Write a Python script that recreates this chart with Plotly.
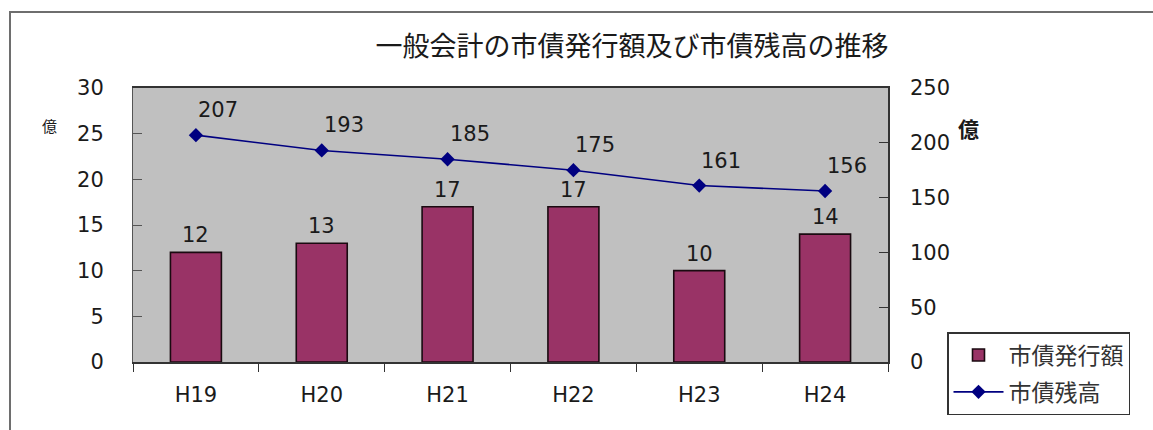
import plotly.graph_objects as go

# 年度別データ（単位：億円）
years = ["H19", "H20", "H21", "H22", "H23", "H24"]
issued = [12, 13, 17, 17, 10, 14]          # 市債発行額
balance = [207, 193, 185, 175, 161, 156]   # 市債残高

left_ticks = [0, 5, 10, 15, 20, 25, 30]
right_ticks = [0, 50, 100, 150, 200, 250]

NUM_FONT = "DejaVu Sans, Noto Sans CJK JP, sans-serif"
JP_FONT = "Noto Sans CJK JP, sans-serif"
TXT = "#1a1a1a"

W, H = 1153, 430
L, R, T, B = 133, 265, 88, 68
pw = W - L - R
ph = H - T - B


def px_x(p):
    return (p - L) / pw


def px_y(p):
    return (H - B - p) / ph


fig = go.Figure()

fig.add_trace(go.Bar(
    x=years, y=issued, name="市債発行額",
    marker=dict(color="#993366", line=dict(color="#1a0a10", width=1.6)),
    legendgroup="a",
))

fig.add_trace(go.Scatter(
    x=years, y=balance, name="市債残高", yaxis="y2",
    mode="lines+markers",
    line=dict(color="#000080", width=1.6),
    marker=dict(symbol="diamond", size=11, color="#000080"),
    legendgroup="b",
))

annotations = []
for yr, v in zip(years, issued):
    annotations.append(dict(
        x=yr, y=v, xref="x", yref="y", text=f"{v:.0f}", showarrow=False,
        yshift=17, xanchor="center", yanchor="middle",
        font=dict(family=NUM_FONT, size=21, color=TXT),
    ))
for yr, v in zip(years, balance):
    annotations.append(dict(
        x=yr, y=v, xref="x", yref="y2", text=f"{v}", showarrow=False,
        xshift=22, yshift=25, xanchor="center", yanchor="middle",
        font=dict(family=NUM_FONT, size=21, color=TXT),
    ))

# 単位表示
annotations.append(dict(
    x=px_x(49), y=px_y(125), xref="paper", yref="paper", text="億",
    xanchor="center", yanchor="middle",
    showarrow=False, font=dict(family=JP_FONT, size=15, color=TXT),
))
annotations.append(dict(
    x=px_x(968), y=px_y(128), xref="paper", yref="paper", text="<b>億</b>",
    xanchor="center", yanchor="middle",
    showarrow=False, font=dict(family=JP_FONT, size=21, color=TXT),
))

fig.update_layout(
    width=W, height=H, autosize=False,
    margin=dict(l=L, r=R, t=T, b=B),
    paper_bgcolor="white",
    plot_bgcolor="#c0c0c0",
    title=dict(
        text="一般会計の市債発行額及び市債残高の推移",
        x=632 / W, xref="container", xanchor="center",
        y=1 - 47 / H, yref="container", yanchor="middle",
        font=dict(family=JP_FONT, size=27, color=TXT),
    ),
    bargap=0.595,
    showlegend=True,
    legend=dict(
        x=px_x(947), y=px_y(332), xanchor="left", yanchor="top",
        bgcolor="white", bordercolor="#333333", borderwidth=1.5,
        font=dict(family=JP_FONT, size=23, color="#333333"),
        traceorder="grouped", tracegroupgap=4, itemwidth=50,
    ),
    xaxis=dict(
        showgrid=False, showline=True, linecolor="#333333", linewidth=1.5,
        mirror=True, ticks="outside", ticklen=8, tickcolor="#333333",
        tickson="boundaries",
        tickfont=dict(family=NUM_FONT, size=21, color=TXT),
        ticklabelstandoff=13,
    ),
    yaxis=dict(
        range=[0, 30], tickvals=left_ticks, showgrid=False, zeroline=False,
        showline=True, linecolor="#555555", linewidth=1,
        ticks="inside", ticklen=9, tickcolor="#555555",
        tickfont=dict(family=NUM_FONT, size=21, color=TXT),
        ticklabelstandoff=24,
    ),
    yaxis2=dict(
        range=[0, 250], tickvals=right_ticks, overlaying="y", side="right",
        showgrid=False, zeroline=False,
        showline=True, linecolor="#333333", linewidth=1.5,
        ticks="inside", ticklen=9, tickcolor="#333333",
        tickfont=dict(family=NUM_FONT, size=21, color=TXT),
        ticklabelstandoff=16,
    ),
    annotations=annotations,
    shapes=[dict(
        type="rect", xref="paper", yref="paper",
        x0=px_x(10), x1=px_x(1170), y0=px_y(450), y1=px_y(12),
        line=dict(color="#6e6e6e", width=2), fillcolor="rgba(0,0,0,0)",
        layer="below",
    )],
)

fig.write_html("out.html")
